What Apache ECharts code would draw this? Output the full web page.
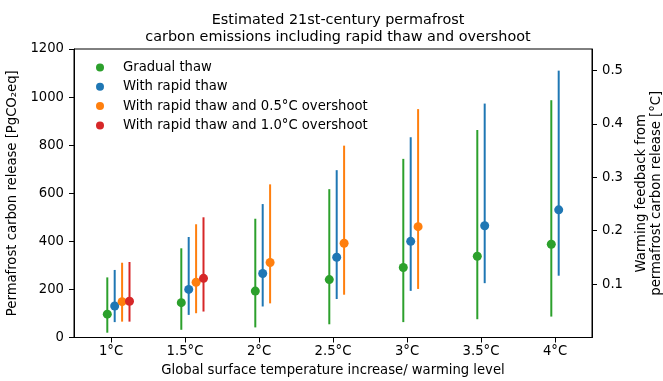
<!DOCTYPE html>
<html>
<head>
<meta charset="utf-8">
<script src="https://cdn.jsdelivr.net/npm/echarts@6/dist/echarts.min.js"></script>
<style>html,body{margin:0;padding:0;background:#fff}#c{width:663px;height:381px}</style>
</head>
<body>
<div id="c"></div>
<script>
// ---- data ----
const warmingLevels = [1, 1.5, 2, 2.5, 3, 3.5, 4];
const tickLabels = ['1°C', '1.5°C', '2°C', '2.5°C', '3°C', '3.5°C', '4°C'];
const rightTicks = [0.1, 0.2, 0.3, 0.4, 0.5];

const seriesNames = ['Gradual thaw', 'With rapid thaw', 'With rapid thaw and 0.5°C overshoot', 'With rapid thaw and 1.0°C overshoot'];

const gradualMid  = [97, 145, 193, 241, 291, 338, 388];
const gradualLow  = [20, 32, 42, 55, 64, 76, 87];
const gradualHigh = [250, 371, 494, 617, 743, 863, 987];

const rapidMid  = [131, 200, 266, 334, 400, 465, 531];
const rapidLow  = [64, 94, 129, 160, 194, 226, 257];
const rapidHigh = [281, 418, 555, 696, 833, 973, 1110];

const over05Mid  = [149, 230, 312, 392, 461];
const over05Low  = [66, 101, 142, 178, 202];
const over05High = [311, 471, 637, 798, 950];

const over10Mid  = [151, 246];
const over10Low  = [66, 108];
const over10High = [314, 500];

// ---- layout / style ----
const offsets = [-0.025, 0.025, 0.075, 0.125];
const colors = ['#2ca02c', '#1f77b4', '#ff7f0e', '#d62728'];
const FONT = 'DejaVu Sans';
const FS = 13.2;

const groups = [
  [gradualMid, gradualLow, gradualHigh],
  [rapidMid, rapidLow, rapidHigh],
  [over05Mid, over05Low, over05High],
  [over10Mid, over10Low, over10High]
];

const series = [];
groups.forEach((g, i) => {
  const [mid, low, high] = g;
  const barData = mid.map((m, k) => [warmingLevels[k] + offsets[i], low[k], high[k]]);
  const dotData = mid.map((m, k) => [warmingLevels[k] + offsets[i], m]);
  series.push({
    name: seriesNames[i] + ' range',
    type: 'custom',
    xAxisIndex: 0, yAxisIndex: 0,
    silent: true,
    z: 2,
    data: barData,
    renderItem: (params, api) => {
      const x = api.value(0);
      const p1 = api.coord([x, api.value(1)]);
      const p2 = api.coord([x, api.value(2)]);
      return {
        type: 'line',
        shape: { x1: p1[0], y1: p1[1], x2: p2[0], y2: p2[1] },
        style: { stroke: colors[i], lineWidth: 2 }
      };
    }
  });
  series.push({
    name: seriesNames[i],
    type: 'scatter',
    xAxisIndex: 0, yAxisIndex: 0,
    symbol: 'circle',
    symbolSize: 9,
    z: 3,
    itemStyle: { color: colors[i], opacity: 1 },
    data: dotData
  });
});

const chart = echarts.init(document.getElementById('c'), null, { renderer: 'canvas' });
chart.setOption({
  animation: false,
  textStyle: { fontFamily: FONT, color: '#000' },
  title: {
    text: 'Estimated 21st-century permafrost\ncarbon emissions including rapid thaw and overshoot',
    left: 333, top: 6,
    textAlign: 'center',
    textStyle: { fontFamily: FONT, fontSize: 14.4, fontWeight: 'normal', color: '#000', lineHeight: 17.7 }
  },
  legend: {
    data: seriesNames,
    orient: 'vertical',
    left: 91, top: 55,
    itemWidth: 8, itemHeight: 8,
    itemGap: 4.3,
    icon: 'circle',
    textStyle: { fontFamily: FONT, fontSize: FS, color: '#000', lineHeight: 15, padding: [0, 0, 0, 14] }
  },
  grid: {
    left: 74, right: 71, top: 49, bottom: 43.5,
    containLabel: false,
    outerBoundsMode: 'none',
    show: true, borderColor: '#000', borderWidth: 1, backgroundColor: 'transparent'
  },
  xAxis: {
    type: 'value',
    min: 0.75, max: 4.25,
    name: 'Global surface temperature increase/ warming level',
    nameLocation: 'middle',
    nameGap: 27,
    nameTextStyle: { fontFamily: FONT, fontSize: FS, color: '#000' },
    axisLine: { show: true, lineStyle: { color: '#000', width: 1 } },
    axisTick: { show: true, length: 5, inside: false, lineStyle: { color: '#000' }, customValues: warmingLevels },
    axisLabel: {
      margin: 8, fontFamily: FONT, fontSize: FS, color: '#000',
      customValues: warmingLevels,
      formatter: v => { const k = warmingLevels.findIndex(w => Math.abs(w - v) < 1e-6); return k >= 0 ? tickLabels[k] : ''; }
    },
    splitLine: { show: false }
  },
  yAxis: [
    {
      type: 'value',
      min: 0, max: 1200, interval: 200,
      position: 'left',
      name: 'Permafrost carbon release [PgCO₂eq]',
      nameLocation: 'middle',
      nameGap: 45,
      nameRotate: 90,
      nameTextStyle: { fontFamily: FONT, fontSize: FS, color: '#000' },
      axisLine: { show: true, lineStyle: { color: '#000', width: 1 } },
      axisTick: { show: true, length: 5, lineStyle: { color: '#000' } },
      axisLabel: { margin: 10, fontFamily: FONT, fontSize: FS, color: '#000', formatter: v => String(v) },
      splitLine: { show: false }
    },
    {
      type: 'value',
      min: 0, max: 0.54,
      position: 'right',
      name: 'Warming feedback from\npermafrost carbon release [°C]',
      nameLocation: 'middle',
      nameGap: 42,
      nameRotate: 90,
      nameTextStyle: { fontFamily: FONT, fontSize: FS, color: '#000', lineHeight: 15 },
      axisLine: { show: true, lineStyle: { color: '#000', width: 1 } },
      axisTick: { show: true, length: 5, lineStyle: { color: '#000' }, customValues: rightTicks },
      axisLabel: { margin: 10, fontFamily: FONT, fontSize: FS, color: '#000', customValues: rightTicks, formatter: v => v.toFixed(1) },
      splitLine: { show: false }
    }
  ],
  series: series
});
</script>
</body>
</html>
